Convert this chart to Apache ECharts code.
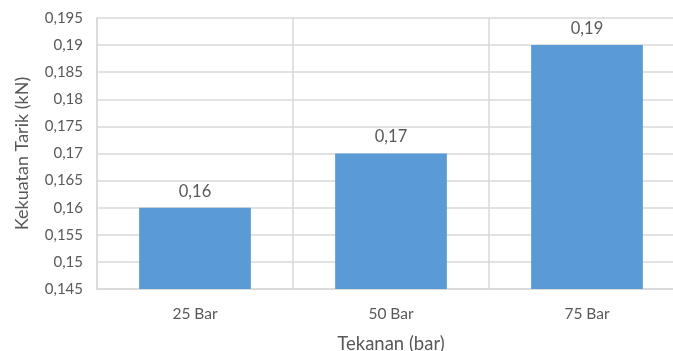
<!DOCTYPE html>
<html>
<head>
<meta charset="utf-8">
<script src="https://cdn.jsdelivr.net/npm/echarts@6/dist/echarts.min.js"></script>
<style>
    html, body {margin: 0; padding: 0; background: #ffffff;}
    #chart {width: 673px; height: 351px;}
</style>
</head>
<body>
<div id="chart"></div>
<script>
const categories = ['25 Bar', '50 Bar', '75 Bar'];
const kekuatanTarik = [0.16, 0.17, 0.19];
const yMin = 0.145;
const yMax = 0.195;
const yStep = 0.005;

const fmt = (v) => parseFloat(v.toFixed(3)).toString().replace('.', ',');

const chart = echarts.init(document.getElementById('chart'));
const options = {
    animation: false,
    textStyle: {fontFamily: 'Lato'},
    grid: {
        left: 97,
        top: 18,
        width: 588,
        height: 271,
        outerBoundsMode: 'none',
        containLabel: false,
    },
    xAxis: {
        type: 'category',
        data: categories,
        name: 'Tekanan (bar)',
        nameLocation: 'middle',
        nameGap: 46,
        nameTextStyle: {color: '#595959', fontSize: 18.5, fontFamily: 'Lato'},
        axisLine: {lineStyle: {color: '#d9d9d9', width: 1.5}},
        axisTick: {show: false},
        axisLabel: {color: '#595959', fontSize: 15.5, margin: 17},
        splitLine: {show: true, interval: 0, lineStyle: {color: '#d9d9d9', width: 1.5}},
    },
    yAxis: {
        type: 'value',
        min: yMin,
        max: yMax,
        interval: yStep,
        name: 'Kekuatan Tarik (kN)',
        nameLocation: 'middle',
        nameGap: 66,
        nameRotate: 90,
        nameTextStyle: {color: '#595959', fontSize: 18, fontFamily: 'Lato'},
        axisLine: {show: true, lineStyle: {color: '#d9d9d9', width: 1.5}},
        axisTick: {show: false},
        axisLabel: {color: '#595959', fontSize: 15, margin: 14, formatter: fmt},
        splitLine: {lineStyle: {color: '#d9d9d9', width: 1.5}},
    },
    series: [{
        type: 'bar',
        data: kekuatanTarik,
        barWidth: '57%',
        itemStyle: {color: '#5b9bd5'},
        label: {
            show: true,
            position: 'top',
            distance: 8,
            color: '#595959',
            fontSize: 16.5,
            formatter: (p) => fmt(p.value),
        },
    }],
};
chart.setOption(options);
</script>
</body>
</html>
